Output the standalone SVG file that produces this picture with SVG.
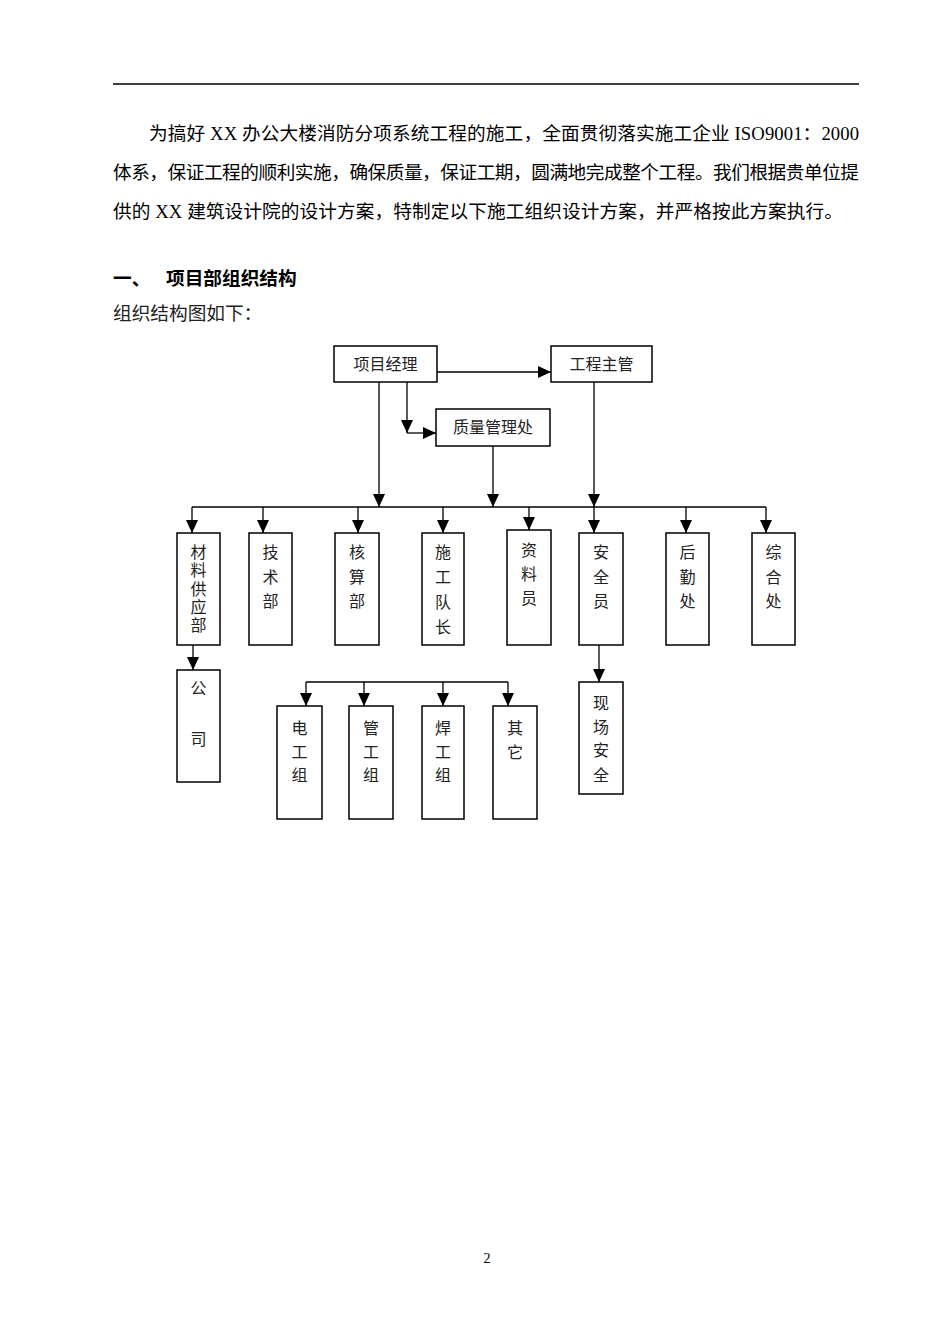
<svg xmlns="http://www.w3.org/2000/svg" width="950" height="1344" viewBox="0 0 950 1344">
<style>
.body{font-family:"Liberation Serif","Noto Sans CJK SC",serif;font-size:18.67px;fill:#000}
.head{font-family:"Liberation Sans","Noto Sans CJK SC",sans-serif;font-size:18.67px;font-weight:bold;fill:#000}
.sub{font-family:"Liberation Sans","Noto Sans CJK SC",sans-serif;font-size:18.67px;fill:#222}
.box{fill:#fff;stroke:#000;stroke-width:1.5}
.lbl{font-family:"Noto Sans CJK SC",sans-serif;font-size:16px;fill:#222;text-anchor:middle}
.vlbl{font-family:"Noto Sans CJK SC",sans-serif;font-size:16px;fill:#222;writing-mode:vertical-rl;letter-spacing:2.3px}
.con line{stroke:#000;stroke-width:1.3;fill:none}
.arr{marker-end:url(#ah)}
</style>
<defs>
<marker id="ah" markerUnits="userSpaceOnUse" markerWidth="13" markerHeight="12" refX="13" refY="6" orient="auto">
<path d="M0,0 L13,6 L0,12 z" fill="#000"/>
</marker>
</defs>
<rect width="950" height="1344" fill="#fff"/>
<line x1="113" y1="84" x2="859" y2="84" stroke="#000" stroke-width="1.5"/>
<text class="body" x="149" y="140" textLength="710" lengthAdjust="spacing">为搞好 XX 办公大楼消防分项系统工程的施工，全面贯彻落实施工企业 ISO9001：2000</text>
<text class="body" x="113" y="179" textLength="746" lengthAdjust="spacing">体系，保证工程的顺利实施，确保质量，保证工期，圆满地完成整个工程。我们根据贵单位提</text>
<text class="body" x="113" y="218" textLength="730" lengthAdjust="spacing">供的 XX 建筑设计院的设计方案，特制定以下施工组织设计方案，并严格按此方案执行。</text>
<text class="head" x="113" y="285">一、</text>
<text class="head" x="166" y="285">项目部组织结构</text>
<text class="sub" x="113" y="320">组织结构图如下：</text>

<g id="connectors" class="con">
<line class="arr" x1="437" y1="372" x2="551" y2="372"/>
<line class="arr" x1="407" y1="382" x2="407" y2="433"/>
<line class="arr" x1="407" y1="433" x2="436" y2="433"/>
<line class="arr" x1="379" y1="382" x2="379" y2="507"/>
<line class="arr" x1="493" y1="446" x2="493" y2="507"/>
<line class="arr" x1="594" y1="382" x2="594" y2="507"/>
<line x1="192" y1="507" x2="766" y2="507"/>
<line class="arr" x1="192" y1="507" x2="192" y2="533"/>
<line class="arr" x1="263" y1="507" x2="263" y2="533"/>
<line class="arr" x1="358" y1="507" x2="358" y2="533"/>
<line class="arr" x1="443" y1="507" x2="443" y2="533"/>
<line class="arr" x1="529" y1="507" x2="529" y2="530"/>
<line class="arr" x1="594" y1="507" x2="594" y2="533"/>
<line class="arr" x1="686" y1="507" x2="686" y2="533"/>
<line class="arr" x1="766" y1="507" x2="766" y2="533"/>
<line class="arr" x1="193" y1="645" x2="193" y2="670"/>
<line class="arr" x1="599" y1="645" x2="599" y2="682"/>
<line x1="306" y1="682" x2="508" y2="682"/>
<line class="arr" x1="306" y1="682" x2="306" y2="706"/>
<line class="arr" x1="364" y1="682" x2="364" y2="706"/>
<line class="arr" x1="443" y1="682" x2="443" y2="706"/>
<line class="arr" x1="508" y1="682" x2="508" y2="706"/>
</g>

<g id="n-xmjl"><rect class="box" x="334" y="346" width="103" height="36"/><text class="lbl" x="385.5" y="370">项目经理</text></g>
<g id="n-gczg"><rect class="box" x="551" y="346" width="101" height="36"/><text class="lbl" x="601.5" y="370">工程主管</text></g>
<g id="n-zlglc"><rect class="box" x="436" y="409" width="114" height="37"/><text class="lbl" x="493" y="433">质量管理处</text></g>

<g id="n-clgyb"><rect class="box" x="177" y="533" width="43" height="112"/>
<text class="vlbl" x="198.5" y="544">材料供应部</text></g>
<g id="n-jsb"><rect class="box" x="249" y="533" width="43" height="112"/>
<text class="lbl" x="270.5" y="558">技</text><text class="lbl" x="270.5" y="583">术</text><text class="lbl" x="270.5" y="607">部</text></g>
<g id="n-hsb"><rect class="box" x="335" y="533" width="44" height="112"/>
<text class="lbl" x="357" y="558">核</text><text class="lbl" x="357" y="583">算</text><text class="lbl" x="357" y="607">部</text></g>
<g id="n-sgdz"><rect class="box" x="422" y="533" width="42" height="112"/>
<text class="lbl" x="443" y="558">施</text><text class="lbl" x="443" y="583">工</text><text class="lbl" x="443" y="608">队</text><text class="lbl" x="443" y="633">长</text></g>
<g id="n-zly"><rect class="box" x="507" y="530" width="44" height="115"/>
<text class="lbl" x="529" y="556">资</text><text class="lbl" x="529" y="580">料</text><text class="lbl" x="529" y="604">员</text></g>
<g id="n-aqy"><rect class="box" x="579" y="533" width="44" height="112"/>
<text class="lbl" x="601" y="558">安</text><text class="lbl" x="601" y="583">全</text><text class="lbl" x="601" y="607">员</text></g>
<g id="n-hqc"><rect class="box" x="666" y="533" width="43" height="112"/>
<text class="lbl" x="687.5" y="558">后</text><text class="lbl" x="687.5" y="583">勤</text><text class="lbl" x="687.5" y="607">处</text></g>
<g id="n-zhc"><rect class="box" x="752" y="533" width="43" height="112"/>
<text class="lbl" x="773.5" y="558">综</text><text class="lbl" x="773.5" y="583">合</text><text class="lbl" x="773.5" y="607">处</text></g>

<g id="n-gs"><rect class="box" x="177" y="670" width="43" height="112"/>
<text class="lbl" x="198.5" y="694">公</text><text class="lbl" x="198.5" y="745">司</text></g>
<g id="n-dgz"><rect class="box" x="277" y="706" width="45" height="113"/>
<text class="lbl" x="299.5" y="734">电</text><text class="lbl" x="299.5" y="758">工</text><text class="lbl" x="299.5" y="781">组</text></g>
<g id="n-ggz"><rect class="box" x="349" y="706" width="44" height="113"/>
<text class="lbl" x="371" y="734">管</text><text class="lbl" x="371" y="758">工</text><text class="lbl" x="371" y="781">组</text></g>
<g id="n-hgz"><rect class="box" x="422" y="706" width="42" height="113"/>
<text class="lbl" x="443" y="734">焊</text><text class="lbl" x="443" y="758">工</text><text class="lbl" x="443" y="781">组</text></g>
<g id="n-qt"><rect class="box" x="493" y="706" width="44" height="113"/>
<text class="lbl" x="515" y="734">其</text><text class="lbl" x="515" y="758">它</text></g>
<g id="n-xcaq"><rect class="box" x="579" y="682" width="44" height="112"/>
<text class="lbl" x="601" y="709">现</text><text class="lbl" x="601" y="733">场</text><text class="lbl" x="601" y="756">安</text><text class="lbl" x="601" y="781">全</text></g>

<text x="487" y="1263" font-family="Liberation Serif, serif" font-size="14" text-anchor="middle" fill="#000">2</text>
</svg>
